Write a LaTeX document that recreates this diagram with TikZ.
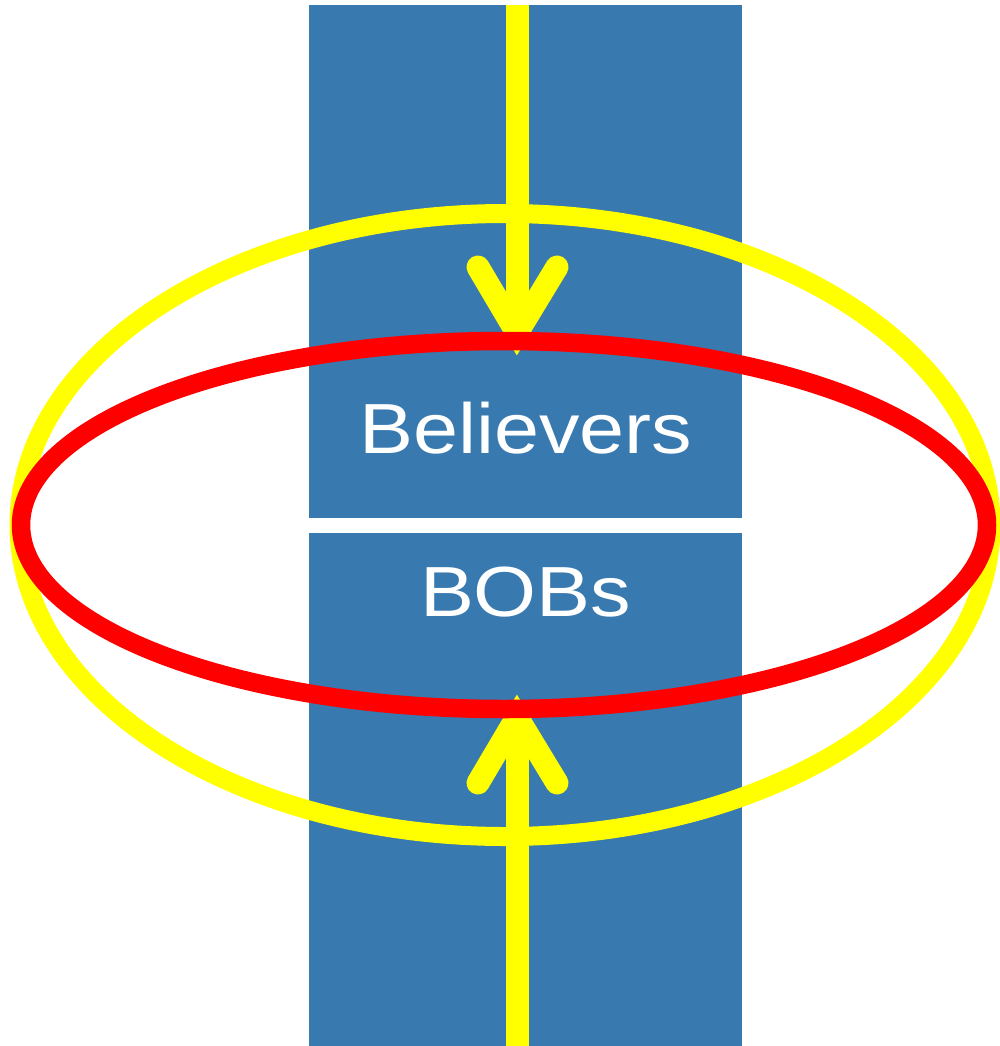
\documentclass[tikz,border=0pt]{standalone}
\usepackage{fontspec}
\newfontfamily\tagfont[FakeStretch=1.14]{Liberation Sans}
\usetikzlibrary{calc}
\definecolor{boxblue}{RGB}{56,121,176}
\definecolor{ringyellow}{RGB}{255,255,0}
\definecolor{ringred}{RGB}{255,0,0}

\begin{document}
\begin{tikzpicture}[x=1pt,y=-1pt,
  panel/.style={fill=boxblue,draw=none,inner sep=0pt,minimum width=433pt,anchor=north west},
  tag/.style={text=white,font=\tagfont\fontsize{71}{85}\selectfont,anchor=base,inner sep=0pt},
  shaft/.style={draw=ringyellow,line width=23pt},
  barb/.style={draw=ringyellow,line width=23pt,line cap=round,line join=miter},
  ring/.style={line width=19pt}
]
\useasboundingbox (0,0) rectangle (999,1046);
% the two blue panels
\node[panel,minimum height=512.7pt] (topbox) at (309,5) {};
\node[panel,minimum height=513.3pt] (botbox) at (309,532.7) {};
\node[tag] (believers) at ($(topbox.south)+(0,-64.7)$) {Believers};
\node[tag] (bobs) at ($(botbox.north)+(0,84)$) {BOBs};
% arrows into the middle
\coordinate (topin) at (517,5);
\coordinate (toptip) at (517,333);
\coordinate (botin) at (517,1046);
\coordinate (bottip) at (517,717);
\draw[shaft] (topin) -- (toptip);
\draw[barb] ($(toptip)+(-39,-66)$) -- (toptip) -- ($(toptip)+(40,-66)$);
\draw[shaft] (botin) -- (bottip);
\draw[barb] ($(bottip)+(-39,66)$) -- (bottip) -- ($(bottip)+(40,66)$);
% rings
\draw[ring,ringyellow] (505,525) ellipse [x radius=486, y radius=311.5];
\draw[ring,ringred,line width=18.5pt] (504,525) ellipse [x radius=483, y radius=184];
\end{tikzpicture}
\end{document}
